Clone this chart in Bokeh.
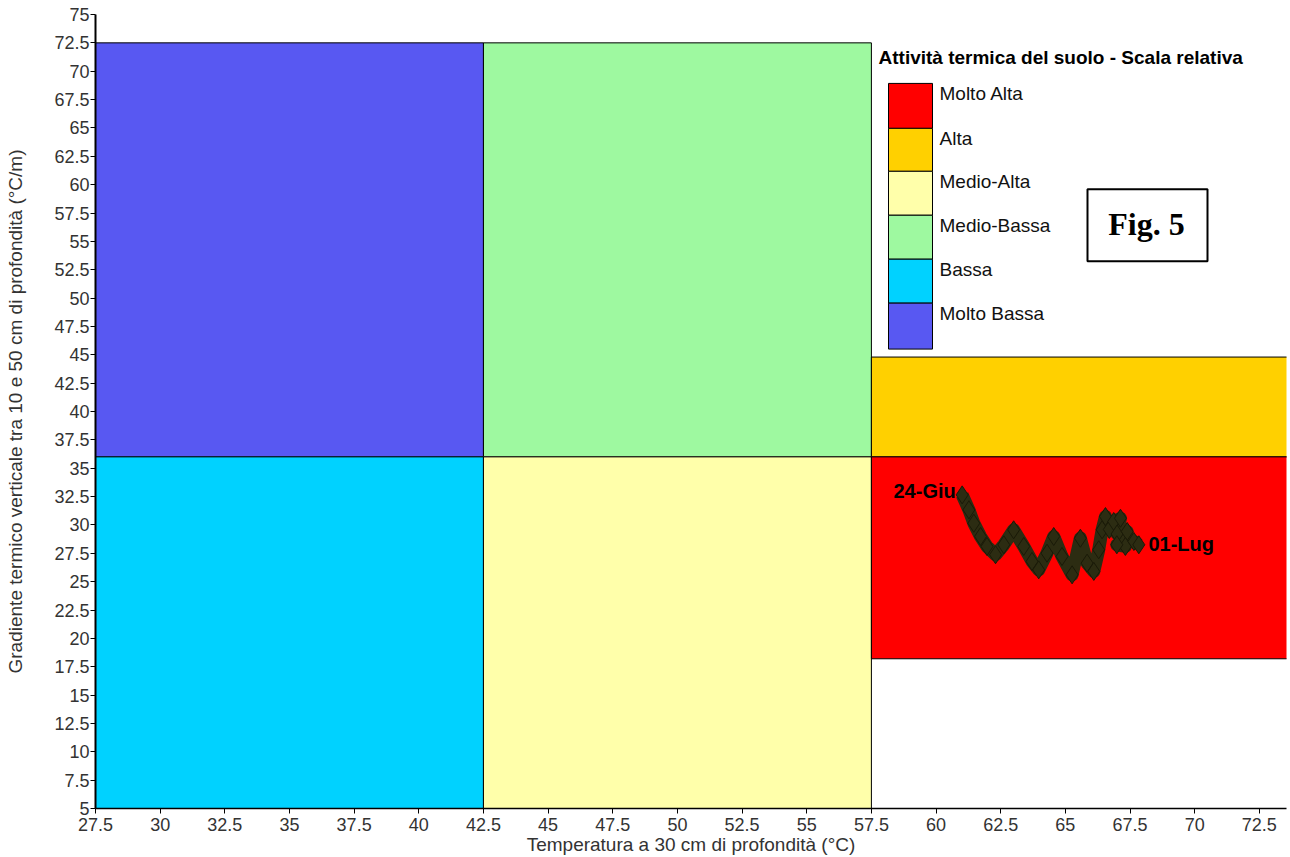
from bokeh.plotting import figure
from bokeh.models import FixedTicker, CustomJSTickFormatter
from bokeh.core.properties import value
from bokeh.embed import file_html
from bokeh.resources import INLINE

# ---------------- data ----------------
x_ticks = [27.5, 30, 32.5, 35, 37.5, 40, 42.5, 45, 47.5, 50, 52.5, 55, 57.5, 60, 62.5, 65, 67.5, 70, 72.5]
x_tick_labels = ["27.5", "30", "32.5", "35", "37.5", "40", "42.5", "45", "47.5", "50", "52.5", "55",
                 "57.5", "60", "62.5", "65", "67.5", "70", "72.5"]
y_ticks = [5, 7.5, 10, 12.5, 15, 17.5, 20, 22.5, 25, 27.5, 30, 32.5, 35, 37.5, 40, 42.5, 45, 47.5,
           50, 52.5, 55, 57.5, 60, 62.5, 65, 67.5, 70, 72.5, 75]
y_tick_labels = ["5", "7.5", "10", "12.5", "15", "17.5", "20", "22.5", "25", "27.5", "30", "32.5", "35",
                 "37.5", "40", "42.5", "45", "47.5", "50", "52.5", "55", "57.5", "60", "62.5", "65",
                 "67.5", "70", "72.5", "75"]

# activity zones
zone_names = ["Molto Bassa", "Bassa", "Medio-Bassa", "Medio-Alta", "Alta", "Molto Alta"]
zone_left = [27.5, 27.5, 42.5, 42.5, 57.5, 57.5]
zone_right = [42.5, 42.5, 57.5, 57.5, 74.0, 74.0]
zone_bottom = [36.0, 5.0, 36.0, 5.0, 36.0, 18.2]
zone_top = [72.5, 36.0, 72.5, 36.0, 44.8, 36.0]
zone_colors = ["#5858F2", "#00D2FF", "#9EF9A0", "#FFFFAA", "#FFD000", "#FF0000"]

# trajectory 24-Giu -> 01-Lug
trace_x = [61.01, 61.27, 61.46, 61.72, 61.97, 62.30, 62.62, 63.00, 63.39, 63.71, 63.97, 64.29, 64.55,
           64.87, 65.26, 65.58, 65.84, 66.10, 66.29, 66.42, 66.55, 66.70, 66.87, 67.13, 67.00, 67.39,
           67.32, 66.99, 67.65, 67.84]
trace_y = [32.65, 31.33, 30.15, 28.98, 28.10, 27.37, 28.25, 29.57, 28.10, 26.78, 26.04, 27.51, 28.98,
           27.22, 25.60, 28.83, 26.63, 25.90, 27.81, 29.57, 30.74, 29.60, 30.30, 30.59, 29.20, 29.42,
           28.10, 28.25, 28.54, 28.25]
start_label = "24-Giu"
end_label = "01-Lug"

legend_title = "Attività termica del suolo - Scala relativa"
legend_names = ["Molto Alta", "Alta", "Medio-Alta", "Medio-Bassa", "Bassa", "Molto Bassa"]
legend_colors = ["#FF0000", "#FFD000", "#FFFFAA", "#9EF9A0", "#00D2FF", "#5858F2"]

# ---------------- layout helpers (pixels -> data) ----------------
W, H = 1290, 857
X0, X1 = 27.5, 73.55
Y0, Y1 = 5.0, 75.0
FL, FR, FT, FB = 95, 1286, 14, 809   # frame edges in pixels


def px_x(px):
    return X0 + (px - FL) * (X1 - X0) / (FR - FL)


def px_y(py):
    return Y1 - (py - FT) * (Y1 - Y0) / (FB - FT)


FONT = "Liberation Sans"

p = figure(width=W, height=H, output_backend="svg", toolbar_location=None,
           x_range=(X0, X1), y_range=(Y0, Y1),
           min_border_left=FL, min_border_right=W - FR,
           min_border_top=FT, min_border_bottom=H - FB)
p.grid.visible = False
p.outline_line_color = None
p.background_fill_color = "white"
p.border_fill_color = "white"

# zones
p.quad(left=zone_left, right=zone_right, bottom=zone_bottom, top=zone_top,
       fill_color=zone_colors, line_color="black", line_width=1)

# trajectory
p.line(trace_x, trace_y, line_color="#2C2C12", line_width=13, line_join="round")
p.scatter(trace_x, trace_y, marker="diamond", size=18, fill_color="#2C2C12",
          line_color="#1A1A08", line_width=1)

p.text(x=[trace_x[0] - 0.25], y=[trace_y[0] + 0.35], text=[start_label], text_align="right",
       text_baseline="middle", text_font=value(FONT), text_font_style="bold",
       text_font_size="20px", text_color="black")
p.text(x=[trace_x[-1] + 0.37], y=[trace_y[-1] + 0.1], text=[end_label], text_align="left",
       text_baseline="middle", text_font=value(FONT), text_font_style="bold",
       text_font_size="20px", text_color="black")

# legend (drawn manually)
p.text(x=[px_x(878)], y=[px_y(57)], text=[legend_title], text_align="left", text_baseline="middle",
       text_font=value(FONT), text_font_style="bold", text_font_size="19px", text_color="black")
edges = [83, 128, 171, 215, 259, 303, 349]
p.quad(left=[px_x(888)] * 6, right=[px_x(932)] * 6,
       top=[px_y(e) for e in edges[:-1]], bottom=[px_y(e) for e in edges[1:]],
       fill_color=legend_colors, line_color="black", line_width=1)
p.text(x=[px_x(939)] * 6, y=[px_y(e + 10) for e in edges[:-1]], text=legend_names,
       text_align="left", text_baseline="middle", text_font=value(FONT),
       text_font_size="19px", text_color="#111111")

# Fig. 5 box
p.quad(left=[px_x(1087)], right=[px_x(1207)], top=[px_y(189)], bottom=[px_y(261)],
       fill_color="white", line_color="black", line_width=2)
p.text(x=[px_x(1146)], y=[px_y(224)], text=["Fig. 5"], text_align="center", text_baseline="middle",
       text_font=value("Liberation Serif"), text_font_style="bold", text_font_size="32px",
       text_color="black")

# axes
code = "const i = vals.findIndex(v => Math.abs(v - tick) < 1e-6); return i >= 0 ? labs[i] : '';"
p.xaxis.ticker = FixedTicker(ticks=x_ticks)
p.yaxis.ticker = FixedTicker(ticks=y_ticks)
p.xaxis.formatter = CustomJSTickFormatter(args=dict(vals=x_ticks, labs=x_tick_labels), code=code)
p.yaxis.formatter = CustomJSTickFormatter(args=dict(vals=y_ticks, labs=y_tick_labels), code=code)
for ax in (p.xaxis, p.yaxis):
    ax.minor_tick_line_color = None
    ax.major_tick_out = 5
    ax.major_tick_in = 0
    ax.major_tick_line_color = "black"
    ax.axis_line_color = "black"
    ax.major_label_text_font = FONT
    ax.major_label_text_font_size = "18px"
    ax.major_label_text_color = "#333333"
    ax.axis_label_text_font = FONT
    ax.axis_label_text_font_size = "19px"
    ax.axis_label_text_font_style = "normal"
    ax.axis_label_text_color = "#333333"

p.yaxis.axis_line_width = 2
p.xaxis.axis_line_width = 1.5
p.xaxis.major_label_standoff = 4
p.yaxis.major_label_standoff = 1
p.xaxis.axis_label = "Temperatura a 30 cm di profondità (°C)"
p.yaxis.axis_label = "Gradiente termico verticale tra 10 e 50 cm di profondità (°C/m)"
p.xaxis.axis_label_standoff = 0
p.yaxis.axis_label_standoff = 25

open("out.html", "w").write(file_html(p, INLINE))
